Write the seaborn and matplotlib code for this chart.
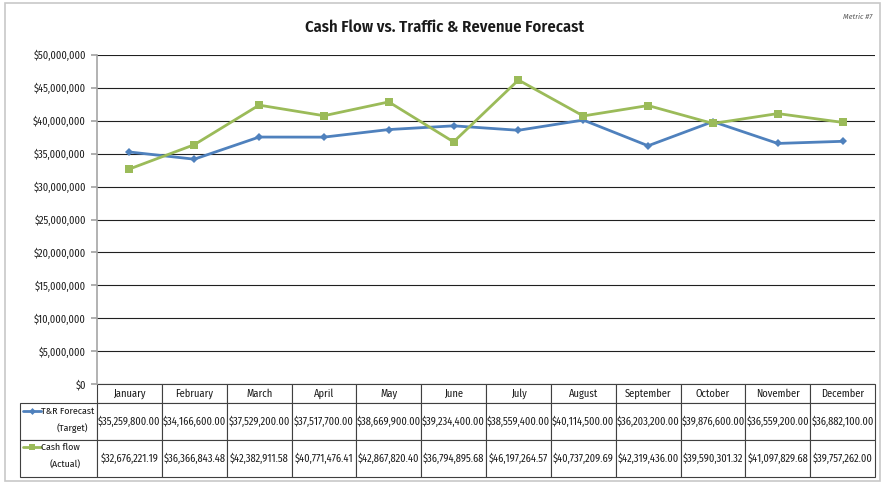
import pandas as pd
import seaborn as sns
import matplotlib.pyplot as plt
from matplotlib import font_manager
from matplotlib.lines import Line2D
from matplotlib.patches import Rectangle
from matplotlib.ticker import FuncFormatter

months = ['January', 'February', 'March', 'April', 'May', 'June', 'July',
          'August', 'September', 'October', 'November', 'December']
target = [35259800.00, 34166600.00, 37529200.00, 37517700.00, 38669900.00, 39234400.00,
          38559400.00, 40114500.00, 36203200.00, 39876600.00, 36559200.00, 36882100.00]
actual = [32676221.19, 36366843.48, 42382911.58, 40771476.41, 42867820.40, 36794895.68,
          46197264.57, 40737209.69, 42319436.00, 39590301.32, 41097829.68, 39757262.00]
label_top = ['T&R Forecast', 'Cash flow']
label_bottom = ['(Target)', '(Actual)']
yticks = list(range(0, 50000001, 5000000))

sns.set_theme(style='white')

# the screenshot is squeezed sideways, so a condensed humanist face fits best
names = {f.name for f in font_manager.fontManager.ttflist}
if 'Fira Sans Condensed' in names:
    plt.rcParams['font.family'] = ['Fira Sans Condensed', 'DejaVu Sans']
    fs_num, fs_lab, fs_key, fs_tick = 7.5, 7.5, 7.1, 7.5
elif 'Carlito' in names:
    plt.rcParams['font.family'] = ['Carlito', 'DejaVu Sans']
    fs_num, fs_lab, fs_key, fs_tick = 6.9, 7.2, 7.2, 7.6
else:
    plt.rcParams['font.family'] = ['Liberation Sans', 'DejaVu Sans']
    fs_num, fs_lab, fs_key, fs_tick = 6.0, 6.5, 6.3, 6.9

W, H = 883, 484
def fx(x):
    return x / W
def fy(y):
    return 1 - y / H

blue = '#4F81BD'
green = '#9BBB59'
ink = '#1a1a1a'

fig = plt.figure(figsize=(W / 100, H / 100), dpi=100)
ax = fig.add_axes([fx(97), fy(384), 778 / W, 329 / H])

idx = list(range(len(months)))
sns.lineplot(x=idx, y=target, color=blue, marker='D', markersize=4, linewidth=2,
             markeredgewidth=0, ax=ax)
sns.lineplot(x=idx, y=actual, color=green, marker='s', markersize=6, linewidth=2,
             markeredgewidth=0, ax=ax)

ax.set_xlim(-0.5, len(months) - 0.5)
ax.set_ylim(0, 50000000)
ax.set_yticks(yticks)
ax.yaxis.set_major_formatter(FuncFormatter(lambda v, p: f'${v:,.0f}'))
ax.set_xticks([])
ax.grid(axis='y', color='#202020', linewidth=0.8)
for s in ['top', 'right', 'bottom']:
    ax.spines[s].set_visible(False)
ax.spines['left'].set_color('#A6A6A6')
ax.spines['left'].set_linewidth(1.2)
ax.tick_params(axis='y', left=True, length=4, color='#A6A6A6', labelsize=fs_tick,
               pad=4, labelcolor=ink)

# data table under the chart; first column holds the series keys
cell_text = [[''] + [f'${v:,.2f}' for v in target],
             [''] + [f'${v:,.2f}' for v in actual]]
tab = ax.table(cellText=cell_text, colLabels=[''] + months, cellLoc='center',
               bbox=[-77 / 778, -93 / 329, 855 / 778, 93 / 329])
tab.auto_set_font_size(False)
for (r, c), cell in tab.get_celld().items():
    cell.set_width(77 if c == 0 else 64.8)
    cell.set_height(19 if r == 0 else 37)
    cell.set_edgecolor('#404040')
    cell.set_linewidth(0.8)
    cell.PAD = 0.02
    cell.get_text().set_color(ink)
    cell.get_text().set_fontsize(fs_lab if r == 0 else fs_num)
    if r == 0 and c == 0:
        cell.visible_edges = ''

# legend keys inside the first column
rows_y = [(411, 428), (447, 465)]
for i, (c, m, ms) in enumerate([(blue, 'D', 3.5), (green, 's', 5)]):
    y1, y2 = rows_y[i]
    fig.add_artist(Line2D([fx(23), fx(41)], [fy(y1), fy(y1)], color=c, lw=2,
                          transform=fig.transFigure))
    fig.add_artist(Line2D([fx(32)], [fy(y1)], color=c, marker=m, ms=ms,
                          markeredgewidth=0, transform=fig.transFigure))
    fig.text(fx(41), fy(y1), label_top[i], ha='left', va='center', fontsize=fs_key,
             color=ink)
    fig.text(fx(72 if i == 0 else 65), fy(y2), label_bottom[i], ha='center',
             va='center', fontsize=fs_key, color=ink)

title = fig.text(fx(445), fy(27), 'Cash Flow vs. Traffic & Revenue Forecast',
                 ha='center', va='center', fontsize=14, fontweight='semibold', color=ink)
# size the title so it spans the same ~279 px as in the screenshot
rend = fig.canvas.get_renderer()
tw = title.get_window_extent(renderer=rend).width
title.set_fontsize(min(16, 14 * 279 / tw))

fig.text(fx(872), fy(17), 'Metric #7', ha='right', va='center', fontsize=5.8,
         style='italic', color='#595959')

fig.add_artist(Rectangle((fx(5), fy(481)), 875 / W, 478 / H, fill=False,
                         edgecolor='#C8C8C8', linewidth=1.2, transform=fig.transFigure))

fig.savefig('out.png', dpi=100)
